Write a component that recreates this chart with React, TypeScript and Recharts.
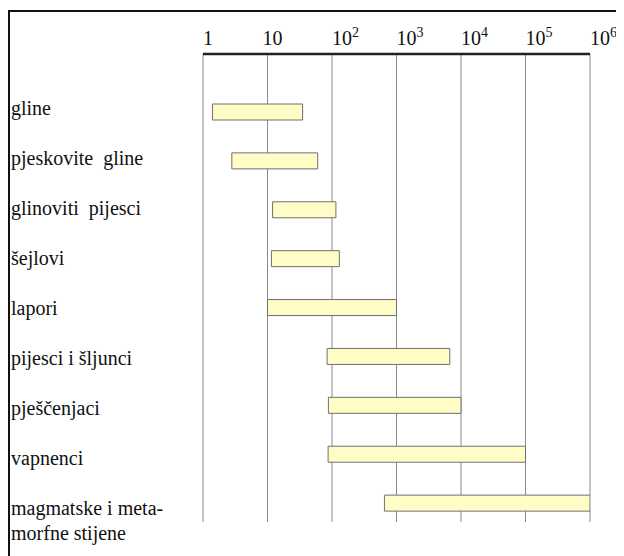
import React from "react";
import { Bar, BarChart, CartesianGrid, XAxis, YAxis } from "recharts";

const categories = [
  "gline",
  "pjeskovite  gline",
  "glinoviti  pijesci",
  "šejlovi",
  "lapori",
  "pijesci i šljunci",
  "pješčenjaci",
  "vapnenci",
  "magmatske i meta-\nmorfne stijene",
];
const lowValues = [1.4, 2.8, 12, 11.5, 10, 84, 88, 87, 650];
const highValues = [35, 60, 115, 130, 1000, 6700, 10000, 100000, 1000000];
const tickValues = [1, 10, 100, 1000, 10000, 100000, 1000000];

const data = categories.map((name, i) => ({ name, range: [lowValues[i], highValues[i]] }));

const serif = '"Liberation Serif", "Times New Roman", Tinos';

function PowerTick({ x, y, payload }: any) {
  const exp = Math.round(Math.log10(payload.value));
  return (
    <text x={exp === 1 ? x - 5 : x} y={y} style={{ fontFamily: serif, fontSize: 20 }} fill="#111" textAnchor="start">
      {exp === 0 ? "1" : exp === 1 ? "10" : (
        <>
          <tspan>10</tspan>
          <tspan dy={-8} style={{ fontSize: 14 }}>{exp}</tspan>
        </>
      )}
    </text>
  );
}

function NameTick({ y, payload }: any) {
  const lines = String(payload.value).split("\n");
  return (
    <text x={1} y={y + 7} style={{ fontFamily: serif, fontSize: 20, whiteSpace: "pre" }} fill="#111">
      {lines.map((line, i) => (
        <tspan key={i} x={1} dy={i === 0 ? 0 : 25}>{line}</tspan>
      ))}
    </text>
  );
}

export default function App() {
  return (
    <div
      style={{
        marginTop: 2,
        width: 616,
        height: 546,
        borderTop: "2px solid #111",
        borderLeft: "2px solid #111",
        boxSizing: "border-box",
        background: "#fff",
        fontFamily: serif,
      }}
    >
      <style>{"body{overflow:hidden} #root svg{overflow:visible}"}</style>
      <BarChart
        width={614}
        height={544}
        data={data}
        layout="vertical"
        margin={{ top: 0, right: 34, bottom: 34, left: 0 }}
      >
        <CartesianGrid horizontal={false} stroke="#8a8a8a" strokeWidth={1} />
        <XAxis
          type="number"
          scale="log"
          domain={[1, 1000000]}
          ticks={tickValues}
          orientation="top"
          height={42}
          tickLine={false}
          tickSize={0}
          tickMargin={9}
          axisLine={{ stroke: "#222", strokeWidth: 2.5 }}
          tick={<PowerTick />}
          interval={0}
          allowDataOverflow
        />
        <XAxis
          xAxisId="bottom"
          type="number"
          scale="log"
          domain={[1, 1000000]}
          orientation="bottom"
          height={0}
          tick={false}
          tickLine={false}
          axisLine={{ stroke: "#8a8a8a", strokeWidth: 1 }}
        />
        {/* bars sit on this axis */}
        <YAxis
          type="category"
          dataKey="name"
          hide
          interval={0}
          padding={{ top: 34, bottom: -6 }}
        />
        {/* labels are spaced a little wider than the bars in the original */}
        <YAxis
          yAxisId="labels"
          type="category"
          dataKey="name"
          width={193}
          axisLine={false}
          tickLine={false}
          tick={<NameTick />}
          interval={0}
          padding={{ top: 29, bottom: -11 }}
        />
        <Bar
          dataKey="range"
          barSize={16}
          fill="#fffcc6"
          stroke="#6f6f6f"
          strokeWidth={1}
          isAnimationActive={false}
        />
      </BarChart>
    </div>
  );
}
